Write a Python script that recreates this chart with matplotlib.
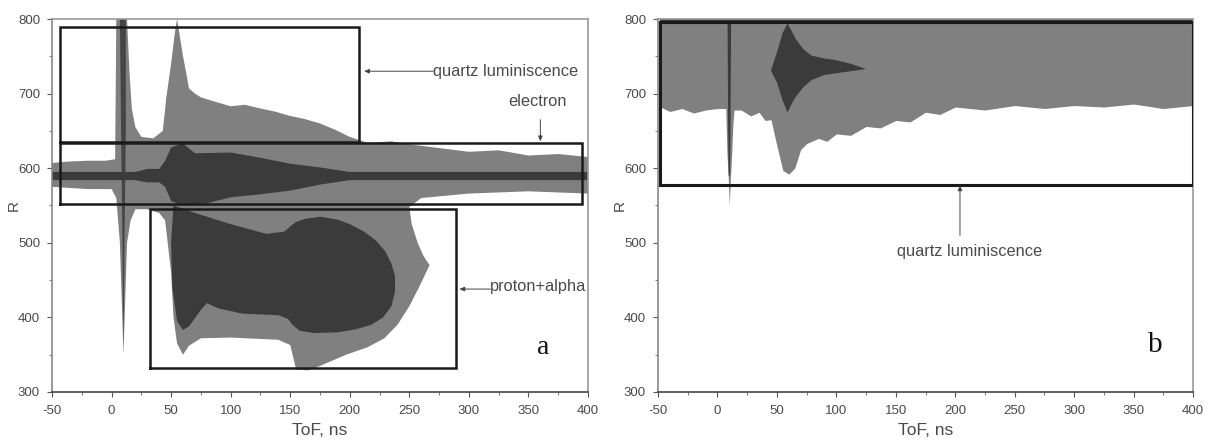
import matplotlib
matplotlib.use("Agg")
import matplotlib.pyplot as plt
from matplotlib.ticker import MultipleLocator

plt.rcParams['font.family'] = ['Liberation Sans', 'DejaVu Sans']
plt.rcParams['axes.unicode_minus'] = False

# Panel a: light envelope (upper then lower)
a_upper_x = [-50,-35,-20,-5,3,4,13,15,17,20,25,35,43,46,50,53,55,57,60,63,65,70,75,85,100,112,125,137,150,162,175,187,200,215,235,250,275,300,325,350,375,400]
a_upper_r = [607,609,610,610,612,800,800,730,680,655,642,640,650,695,740,780,800,780,750,725,707,700,695,690,683,685,680,676,670,666,660,652,642,634,636,632,627,622,624,617,619,615]
a_lower_x = [-50,-20,0,4,7,9,10,11,13,16,20,30,40,45,50,52,55,60,65,75,100,140,150,155,165,175,197,215,229,240,250,258,267,262,257,252,250,260,300,350,400]
a_lower_r = [575,572,572,560,500,400,350,400,500,530,545,545,540,530,460,400,365,350,362,372,373,370,363,330,329,335,350,360,372,390,415,440,470,482,500,525,548,560,566,569,566]

# Panel a: dark electron band
e_upper_x = [-50,20,30,40,45,50,60,70,100,125,150,175,200,400]
e_upper_r = [595,595,599,599,610,628,633,620,621,614,606,601,595,595]
e_lower_x = [-50,20,30,40,45,50,60,80,100,125,150,175,200,400]
e_lower_r = [584,584,581,581,575,556,550,553,561,565,570,578,584,584]

# Panel a: dark prompt spike and proton+alpha blob
s_x = [7,12,12,11,10.5,10,9.5,9,8,7]
s_r = [800,800,650,520,430,360,430,520,650,800]
b_x = [52,70,100,130,145,150,155,162,175,190,200,212,222,230,235,238,238,235,228,218,205,190,170,158,152,148,140,110,90,80,75,65,60,55,51,50]
b_r = [550,540,525,512,515,522,528,532,535,531,525,515,503,488,472,455,435,415,400,390,384,380,379,382,390,398,403,405,412,419,410,388,383,395,440,500]

# Panel b: light region lower edge
l_x = [-48,-40,-30,-20,-10,0,7,8,9,10,11,12,13,14,20,28,35,40,45,50,55,60,65,70,75,85,92,100,112,125,137,150,162,175,187,200,225,250,275,300,325,350,375,400]
l_r = [682,676,680,674,678,680,680,620,590,550,590,620,660,678,678,670,675,664,665,630,597,592,600,625,633,640,636,646,644,656,654,664,662,675,672,682,678,684,680,684,682,686,680,684]

# Panel b: dark parts
ds_x = [8.5,11.5,11,10.5,9.5,9]
ds_r = [800,800,660,590,590,660]
d_x = [45,50,55,59,62,66,72,79,90,99,112,125,112,99,90,79,72,66,63,59,55,50]
d_r = [731,755,782,794,785,773,760,751,747,745,740,733,730,727,725,718,708,696,688,675,690,715]

LIGHT, DARK = '#808080', '#3b3b3b'
TXT = '#4a4a4a'
fig = plt.figure(figsize=(12.09, 4.45), dpi=100)
W, H = 1209, 445
axa = fig.add_axes([52/W, 1-392/H, 536/W, 373/H])
axb = fig.add_axes([658/W, 1-392/H, 535/W, 373/H])

for ax in (axa, axb):
    ax.set_xlim(-50, 400); ax.set_ylim(300, 800)
    ax.xaxis.set_major_locator(MultipleLocator(50)); ax.xaxis.set_minor_locator(MultipleLocator(25))
    ax.yaxis.set_major_locator(MultipleLocator(100)); ax.yaxis.set_minor_locator(MultipleLocator(50))
    ax.tick_params(which='major', length=3.6, width=0.8, color='#555555', labelsize=9.5, labelcolor=TXT)
    ax.tick_params(axis='x', which='major', pad=6)
    ax.tick_params(axis='y', which='major', pad=5)
    ax.tick_params(which='minor', length=2, width=0.7, color='#777777')
    for k in ('top', 'right'):
        ax.spines[k].set_color('#999999'); ax.spines[k].set_linewidth(1.2)
    ax.spines['left'].set_color('#888888'); ax.spines['left'].set_linewidth(1.2)
    ax.spines['bottom'].set_color('#444444'); ax.spines['bottom'].set_linewidth(1.2)
    ax.set_xlabel('ToF, ns', fontsize=12.5, color=TXT, labelpad=4)
    ax.set_ylabel('R', fontsize=11, color=TXT, labelpad=-2)

def box(ax, x0, x1, y0, y1, lw=1.8):
    ax.plot([x0, x1, x1, x0, x0], [y0, y0, y1, y1, y0], color='#1a1a1a', lw=lw, zorder=5, solid_joinstyle='miter')

def arrow(ax, xy, xyt):
    ax.annotate('', xy=xy, xytext=xyt, zorder=6,
                arrowprops=dict(arrowstyle='-|>,head_width=0.13,head_length=0.3', color='#444444', lw=0.7, shrinkA=0, shrinkB=0))

# Panel a
axa.fill(a_upper_x + a_lower_x[::-1], a_upper_r + a_lower_r[::-1], color=LIGHT, lw=0)
axa.fill(e_upper_x + e_lower_x[::-1], e_upper_r + e_lower_r[::-1], color=DARK, lw=0)
axa.fill(s_x, s_r, color=DARK, lw=0, alpha=0.85)
axa.fill(b_x, b_r, color=DARK, lw=0)
box(axa, -43, 208, 635, 789)
box(axa, -43, 395, 552, 634)
box(axa, 32, 289, 332, 545)
arrow(axa, (212, 730), (270, 730))
arrow(axa, (360, 636), (360, 665))
arrow(axa, (292, 438), (318, 438))
axa.text(270, 729, 'quartz luminiscence', fontsize=11.8, color=TXT, va='center', ha='left')
axa.text(358, 690, 'electron', fontsize=11.8, color=TXT, va='center', ha='center')
axa.text(318, 441, 'proton+alpha', fontsize=11.8, color=TXT, va='center', ha='left')
axa.text(362, 359, 'a', fontsize=20, family=['Liberation Serif'], color='#111111', va='center', ha='center')

# Panel b
axb.fill_between(l_x, l_r, 800, color=LIGHT, lw=0)
axb.fill_between([-48, 400], 795, 800, color=DARK, lw=0)
axb.fill(ds_x, ds_r, color=DARK, lw=0)
axb.fill(d_x, d_r, color=DARK, lw=0)
box(axb, -48, 400, 578, 796, lw=2.2)
arrow(axb, (204, 577), (204, 510))
axb.text(212, 488, 'quartz luminiscence', fontsize=11.8, color=TXT, va='center', ha='center')
axb.text(368, 363, 'b', fontsize=21, family=['Liberation Serif'], color='#111111', va='center', ha='center')

fig.savefig('out.png', dpi=100)
